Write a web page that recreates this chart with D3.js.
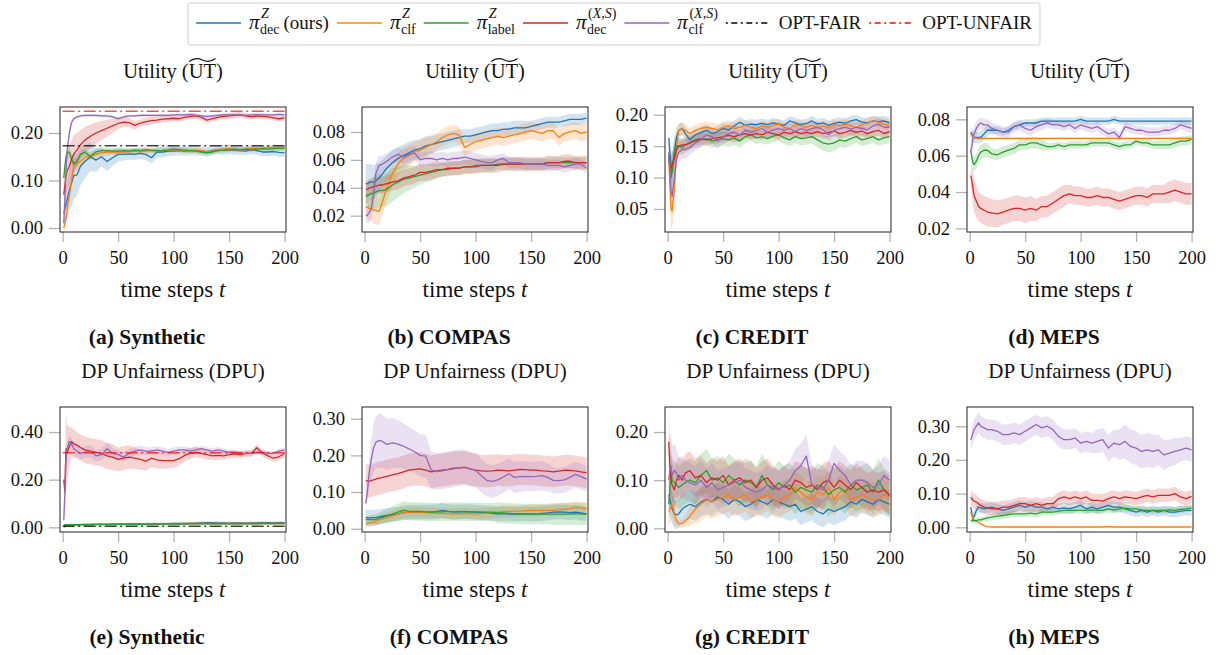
<!DOCTYPE html>
<html>
<head>
<meta charset="utf-8">
<script src="https://cdn.jsdelivr.net/npm/d3@7"></script>
<style>
  body { margin: 0; background: #fff; }
  svg text { font-family: "Liberation Serif", "DejaVu Serif", serif; fill: #111; }
</style>
</head>
<body>
<svg id="chart" width="1220" height="655"></svg>
<script>
/*################
Data: time grid shared by every series
################*/
const steps = [1, 2, 3, 4, 6, 8, 10, 13, 16,
  20, 25, 30, 35, 40, 45, 50, 55, 60, 65,
  70, 75, 80, 85, 90, 95, 100, 105, 110, 115,
  120, 125, 130, 135, 140, 145, 150, 155, 160, 165,
  170, 175, 180, 185, 190, 195, 200];

const xTicks = [0, 50, 100, 150, 200];
const synUtTicks = [0, 0.1, 0.2];
const compUtTicks = [0.02, 0.04, 0.06, 0.08];
const credUtTicks = [0.05, 0.1, 0.15, 0.2];
const mepsUtTicks = [0.02, 0.04, 0.06, 0.08];
const synDpTicks = [0, 0.2, 0.4];
const compDpTicks = [0, 0.1, 0.2, 0.3];
const credDpTicks = [0, 0.1, 0.2];
const mepsDpTicks = [0, 0.1, 0.2, 0.3];

// reference optima (synthetic only): [utility, DPU]
const optFair = [0.173, 0.005];
const optUnfair = [0.246, 0.313];

/*################
(a) Synthetic - utility
################*/
const synUtDecZ = [0.030, 0.040, 0.050, 0.060, 0.080, 0.095, 0.110, 0.112, 0.130,
  0.140, 0.150, 0.143, 0.150, 0.140, 0.148, 0.155, 0.155, 0.156, 0.155,
  0.157, 0.155, 0.148, 0.160, 0.160, 0.162, 0.162, 0.163, 0.162, 0.163,
  0.163, 0.162, 0.160, 0.163, 0.165, 0.164, 0.165, 0.164, 0.163, 0.162,
  0.165, 0.163, 0.160, 0.160, 0.161, 0.159, 0.158];
const synUtDecZSd = [0.020, 0.030, 0.035, 0.040, 0.045, 0.050, 0.050, 0.045, 0.040,
  0.035, 0.030, 0.025, 0.020, 0.020, 0.018, 0.015, 0.013, 0.012, 0.012,
  0.012, 0.012, 0.012, 0.012, 0.011, 0.011, 0.010, 0.010, 0.010, 0.010,
  0.010, 0.010, 0.010, 0.010, 0.010, 0.010, 0.010, 0.010, 0.009, 0.009,
  0.009, 0.009, 0.009, 0.009, 0.009, 0.009, 0.009];
const synUtClfZ = [0.000, 0.010, 0.020, 0.040, 0.070, 0.100, 0.130, 0.135, 0.140,
  0.148, 0.153, 0.155, 0.158, 0.160, 0.160, 0.160, 0.160, 0.161, 0.162,
  0.161, 0.162, 0.163, 0.162, 0.163, 0.164, 0.165, 0.164, 0.163, 0.163,
  0.164, 0.163, 0.161, 0.162, 0.165, 0.166, 0.167, 0.165, 0.164, 0.166,
  0.168, 0.167, 0.168, 0.170, 0.169, 0.168, 0.168];
const synUtClfZSd = [0.004, 0.008, 0.012, 0.018, 0.020, 0.020, 0.015, 0.012, 0.010,
  0.009, 0.008, 0.008, 0.007, 0.007, 0.006, 0.006, 0.006, 0.006, 0.006,
  0.006, 0.006, 0.005, 0.005, 0.005, 0.005, 0.005, 0.005, 0.005, 0.005,
  0.005, 0.005, 0.005, 0.005, 0.005, 0.005, 0.005, 0.005, 0.005, 0.005,
  0.005, 0.005, 0.005, 0.005, 0.005, 0.005, 0.005];
const synUtLabelZ = [0.105, 0.130, 0.150, 0.158, 0.160, 0.145, 0.135, 0.140, 0.155,
  0.160, 0.150, 0.160, 0.163, 0.163, 0.162, 0.162, 0.163, 0.162, 0.164,
  0.163, 0.165, 0.164, 0.163, 0.163, 0.164, 0.166, 0.165, 0.164, 0.163,
  0.162, 0.160, 0.158, 0.160, 0.163, 0.164, 0.165, 0.166, 0.165, 0.166,
  0.165, 0.166, 0.167, 0.166, 0.167, 0.168, 0.168];
const synUtLabelZSd = [0.010, 0.012, 0.012, 0.012, 0.012, 0.012, 0.010, 0.010, 0.008,
  0.008, 0.007, 0.007, 0.006, 0.006, 0.006, 0.006, 0.005, 0.005, 0.005,
  0.005, 0.005, 0.005, 0.005, 0.005, 0.005, 0.005, 0.005, 0.005, 0.005,
  0.005, 0.005, 0.005, 0.005, 0.005, 0.005, 0.005, 0.005, 0.005, 0.005,
  0.005, 0.005, 0.005, 0.005, 0.005, 0.005, 0.005];
const synUtDecXS = [0.070, 0.090, 0.110, 0.120, 0.130, 0.145, 0.155, 0.165, 0.175,
  0.185, 0.193, 0.200, 0.205, 0.210, 0.215, 0.220, 0.223, 0.222, 0.216,
  0.221, 0.224, 0.226, 0.227, 0.229, 0.230, 0.231, 0.230, 0.233, 0.235,
  0.236, 0.233, 0.227, 0.230, 0.233, 0.235, 0.236, 0.237, 0.238, 0.236,
  0.234, 0.236, 0.235, 0.234, 0.232, 0.230, 0.232];
const synUtDecXSSd = [0.030, 0.035, 0.040, 0.040, 0.040, 0.040, 0.040, 0.035, 0.030,
  0.028, 0.025, 0.022, 0.020, 0.018, 0.015, 0.012, 0.010, 0.010, 0.009,
  0.008, 0.008, 0.008, 0.007, 0.007, 0.007, 0.006, 0.006, 0.006, 0.006,
  0.006, 0.006, 0.006, 0.006, 0.006, 0.006, 0.006, 0.006, 0.006, 0.006,
  0.006, 0.006, 0.006, 0.006, 0.006, 0.006, 0.006];
const synUtClfXS = [0.010, 0.060, 0.120, 0.160, 0.200, 0.222, 0.230, 0.234, 0.236,
  0.237, 0.237, 0.237, 0.236, 0.236, 0.234, 0.230, 0.234, 0.236, 0.236,
  0.237, 0.237, 0.237, 0.237, 0.237, 0.237, 0.238, 0.238, 0.238, 0.239,
  0.237, 0.236, 0.235, 0.236, 0.237, 0.238, 0.238, 0.238, 0.238, 0.237,
  0.238, 0.238, 0.238, 0.238, 0.238, 0.239, 0.238];
const synUtClfXSSd = [0.005, 0.020, 0.020, 0.015, 0.010, 0.006, 0.004, 0.004, 0.003,
  0.003, 0.003, 0.003, 0.003, 0.003, 0.003, 0.003, 0.003, 0.003, 0.003,
  0.003, 0.003, 0.003, 0.003, 0.003, 0.003, 0.003, 0.003, 0.003, 0.003,
  0.003, 0.003, 0.003, 0.003, 0.003, 0.003, 0.003, 0.003, 0.003, 0.003,
  0.003, 0.003, 0.003, 0.003, 0.003, 0.003, 0.003];

/*################
(b) COMPAS - utility
################*/
const compUtDecZ = [0.043, 0.043, 0.043, 0.044, 0.044, 0.044, 0.045, 0.047, 0.050,
  0.054, 0.058, 0.061, 0.063, 0.065, 0.067, 0.068, 0.070, 0.071, 0.072,
  0.073, 0.074, 0.075, 0.076, 0.077, 0.077, 0.078, 0.079, 0.080, 0.081,
  0.081, 0.082, 0.082, 0.083, 0.083, 0.083, 0.084, 0.085, 0.086, 0.087,
  0.087, 0.087, 0.088, 0.089, 0.089, 0.089, 0.090];
const compUtDecZSd = [0.014, 0.014, 0.014, 0.013, 0.013, 0.012, 0.012, 0.011, 0.010,
  0.009, 0.009, 0.008, 0.008, 0.008, 0.007, 0.007, 0.007, 0.006, 0.006,
  0.006, 0.006, 0.006, 0.006, 0.005, 0.005, 0.005, 0.005, 0.005, 0.005,
  0.005, 0.005, 0.005, 0.005, 0.005, 0.005, 0.004, 0.004, 0.004, 0.004,
  0.004, 0.004, 0.004, 0.004, 0.004, 0.004, 0.004];
const compUtClfZ = [0.026, 0.026, 0.026, 0.025, 0.025, 0.024, 0.024, 0.023, 0.030,
  0.040, 0.050, 0.057, 0.061, 0.063, 0.066, 0.067, 0.069, 0.071, 0.073,
  0.076, 0.078, 0.079, 0.078, 0.069, 0.071, 0.073, 0.074, 0.075, 0.076,
  0.077, 0.076, 0.077, 0.078, 0.079, 0.080, 0.081, 0.080, 0.079, 0.081,
  0.081, 0.076, 0.079, 0.080, 0.081, 0.079, 0.080];
const compUtClfZSd = [0.006, 0.007, 0.008, 0.008, 0.009, 0.010, 0.010, 0.010, 0.009,
  0.009, 0.009, 0.008, 0.008, 0.008, 0.007, 0.007, 0.007, 0.007, 0.006,
  0.006, 0.006, 0.006, 0.006, 0.006, 0.006, 0.006, 0.006, 0.006, 0.006,
  0.006, 0.006, 0.006, 0.006, 0.006, 0.006, 0.006, 0.006, 0.006, 0.006,
  0.006, 0.006, 0.006, 0.006, 0.006, 0.006, 0.006];
const compUtLabelZ = [0.034, 0.034, 0.035, 0.035, 0.036, 0.036, 0.037, 0.038, 0.038,
  0.039, 0.042, 0.044, 0.046, 0.047, 0.048, 0.049, 0.050, 0.051, 0.052,
  0.053, 0.053, 0.054, 0.054, 0.055, 0.055, 0.056, 0.056, 0.056, 0.056,
  0.057, 0.057, 0.057, 0.057, 0.057, 0.057, 0.057, 0.057, 0.057, 0.058,
  0.058, 0.058, 0.058, 0.058, 0.058, 0.058, 0.058];
const compUtLabelZSd = [0.008, 0.009, 0.010, 0.010, 0.011, 0.012, 0.012, 0.012, 0.012,
  0.012, 0.012, 0.011, 0.010, 0.009, 0.008, 0.007, 0.006, 0.006, 0.005,
  0.005, 0.005, 0.005, 0.005, 0.005, 0.005, 0.005, 0.005, 0.005, 0.005,
  0.004, 0.004, 0.004, 0.004, 0.004, 0.004, 0.004, 0.004, 0.004, 0.004,
  0.004, 0.004, 0.004, 0.004, 0.004, 0.004, 0.004];
const compUtDecXS = [0.039, 0.039, 0.039, 0.040, 0.040, 0.041, 0.041, 0.042, 0.042,
  0.043, 0.044, 0.045, 0.047, 0.048, 0.049, 0.051, 0.051, 0.052, 0.053,
  0.053, 0.054, 0.054, 0.054, 0.055, 0.055, 0.055, 0.056, 0.056, 0.056,
  0.056, 0.057, 0.057, 0.057, 0.057, 0.057, 0.057, 0.057, 0.057, 0.058,
  0.058, 0.058, 0.059, 0.059, 0.058, 0.058, 0.058];
const compUtDecXSSd = [0.006, 0.006, 0.006, 0.006, 0.006, 0.006, 0.006, 0.006, 0.006,
  0.006, 0.006, 0.006, 0.006, 0.006, 0.006, 0.006, 0.006, 0.006, 0.006,
  0.005, 0.005, 0.005, 0.005, 0.005, 0.005, 0.005, 0.005, 0.005, 0.005,
  0.005, 0.005, 0.005, 0.005, 0.005, 0.005, 0.005, 0.005, 0.005, 0.005,
  0.005, 0.005, 0.005, 0.005, 0.005, 0.005, 0.005];
const compUtClfXS = [0.020, 0.020, 0.021, 0.022, 0.025, 0.035, 0.050, 0.056, 0.057,
  0.059, 0.062, 0.064, 0.062, 0.064, 0.065, 0.060, 0.061, 0.061, 0.060,
  0.061, 0.060, 0.061, 0.061, 0.062, 0.061, 0.060, 0.059, 0.058, 0.058,
  0.060, 0.061, 0.058, 0.058, 0.058, 0.057, 0.057, 0.057, 0.057, 0.056,
  0.056, 0.056, 0.055, 0.056, 0.057, 0.057, 0.054];
const compUtClfXSSd = [0.004, 0.005, 0.006, 0.007, 0.008, 0.010, 0.008, 0.007, 0.006,
  0.006, 0.005, 0.005, 0.005, 0.005, 0.005, 0.005, 0.005, 0.005, 0.005,
  0.005, 0.005, 0.005, 0.005, 0.005, 0.005, 0.005, 0.005, 0.005, 0.005,
  0.004, 0.004, 0.004, 0.004, 0.004, 0.004, 0.004, 0.004, 0.004, 0.004,
  0.004, 0.004, 0.004, 0.004, 0.004, 0.004, 0.004];

/*################
(c) CREDIT - utility
################*/
const credUtDecZ = [0.163, 0.140, 0.120, 0.110, 0.140, 0.165, 0.175, 0.178, 0.170,
  0.160, 0.168, 0.172, 0.175, 0.170, 0.173, 0.178, 0.176, 0.182, 0.188,
  0.183, 0.185, 0.184, 0.186, 0.184, 0.187, 0.185, 0.183, 0.190, 0.187,
  0.184, 0.186, 0.190, 0.185, 0.187, 0.183, 0.186, 0.188, 0.186, 0.190,
  0.192, 0.188, 0.187, 0.190, 0.189, 0.190, 0.187];
const credUtDecZSd = [0.010, 0.020, 0.025, 0.030, 0.025, 0.015, 0.010, 0.010, 0.010,
  0.009, 0.009, 0.009, 0.009, 0.009, 0.009, 0.009, 0.009, 0.009, 0.009,
  0.008, 0.008, 0.008, 0.008, 0.008, 0.008, 0.008, 0.008, 0.008, 0.008,
  0.008, 0.008, 0.008, 0.008, 0.008, 0.008, 0.008, 0.008, 0.008, 0.008,
  0.008, 0.008, 0.008, 0.008, 0.008, 0.008, 0.008];
const credUtClfZ = [0.130, 0.090, 0.050, 0.047, 0.080, 0.150, 0.175, 0.178, 0.175,
  0.170, 0.175, 0.178, 0.180, 0.178, 0.176, 0.180, 0.182, 0.178, 0.180,
  0.183, 0.180, 0.178, 0.182, 0.180, 0.183, 0.185, 0.180, 0.178, 0.184,
  0.182, 0.180, 0.183, 0.179, 0.182, 0.180, 0.184, 0.182, 0.185, 0.183,
  0.180, 0.184, 0.186, 0.190, 0.188, 0.185, 0.183];
const credUtClfZSd = [0.020, 0.030, 0.030, 0.030, 0.030, 0.020, 0.010, 0.010, 0.010,
  0.009, 0.009, 0.009, 0.009, 0.009, 0.009, 0.009, 0.009, 0.009, 0.009,
  0.008, 0.008, 0.008, 0.008, 0.008, 0.008, 0.008, 0.008, 0.008, 0.008,
  0.008, 0.008, 0.008, 0.008, 0.008, 0.008, 0.008, 0.008, 0.008, 0.008,
  0.008, 0.008, 0.008, 0.008, 0.008, 0.008, 0.008];
const credUtLabelZ = [0.130, 0.120, 0.100, 0.110, 0.140, 0.150, 0.150, 0.148, 0.152,
  0.155, 0.158, 0.160, 0.162, 0.158, 0.160, 0.162, 0.160, 0.163, 0.158,
  0.165, 0.168, 0.163, 0.165, 0.162, 0.166, 0.168, 0.163, 0.160, 0.165,
  0.162, 0.163, 0.165, 0.160, 0.155, 0.153, 0.155, 0.160, 0.158, 0.162,
  0.165, 0.160, 0.162, 0.165, 0.160, 0.163, 0.165];
const credUtLabelZSd = [0.015, 0.020, 0.025, 0.025, 0.020, 0.015, 0.012, 0.012, 0.012,
  0.011, 0.011, 0.011, 0.011, 0.011, 0.011, 0.011, 0.011, 0.011, 0.011,
  0.010, 0.010, 0.010, 0.010, 0.010, 0.010, 0.010, 0.010, 0.010, 0.010,
  0.011, 0.011, 0.011, 0.012, 0.012, 0.013, 0.013, 0.012, 0.011, 0.011,
  0.010, 0.010, 0.010, 0.010, 0.010, 0.010, 0.010];
const credUtDecXS = [0.135, 0.120, 0.115, 0.120, 0.130, 0.145, 0.150, 0.152, 0.152,
  0.155, 0.160, 0.162, 0.160, 0.162, 0.163, 0.165, 0.167, 0.165, 0.168,
  0.170, 0.168, 0.170, 0.168, 0.172, 0.170, 0.168, 0.172, 0.170, 0.173,
  0.170, 0.172, 0.170, 0.173, 0.170, 0.172, 0.174, 0.170, 0.172, 0.175,
  0.172, 0.174, 0.170, 0.173, 0.175, 0.170, 0.173];
const credUtDecXSSd = [0.015, 0.020, 0.020, 0.020, 0.020, 0.015, 0.012, 0.010, 0.010,
  0.009, 0.009, 0.009, 0.009, 0.009, 0.009, 0.009, 0.009, 0.009, 0.009,
  0.008, 0.008, 0.008, 0.008, 0.008, 0.008, 0.008, 0.008, 0.008, 0.008,
  0.008, 0.008, 0.008, 0.008, 0.008, 0.008, 0.008, 0.008, 0.008, 0.008,
  0.008, 0.008, 0.008, 0.008, 0.008, 0.008, 0.008];
const credUtClfXS = [0.140, 0.110, 0.080, 0.070, 0.100, 0.130, 0.140, 0.145, 0.145,
  0.148, 0.155, 0.160, 0.168, 0.165, 0.158, 0.165, 0.170, 0.172, 0.168,
  0.175, 0.172, 0.175, 0.178, 0.172, 0.176, 0.178, 0.175, 0.178, 0.173,
  0.178, 0.175, 0.178, 0.180, 0.176, 0.168, 0.175, 0.178, 0.180, 0.177,
  0.180, 0.178, 0.176, 0.182, 0.185, 0.180, 0.180];
const credUtClfXSSd = [0.020, 0.025, 0.030, 0.030, 0.030, 0.020, 0.015, 0.015, 0.015,
  0.012, 0.012, 0.012, 0.012, 0.012, 0.012, 0.012, 0.012, 0.012, 0.012,
  0.010, 0.010, 0.010, 0.010, 0.010, 0.010, 0.010, 0.010, 0.010, 0.010,
  0.010, 0.010, 0.010, 0.010, 0.010, 0.010, 0.010, 0.010, 0.010, 0.010,
  0.010, 0.010, 0.010, 0.010, 0.010, 0.010, 0.010];

/*################
(d) MEPS - utility
################*/
const mepsUtDecZ = [0.073, 0.072, 0.071, 0.070, 0.070, 0.070, 0.070, 0.072, 0.074,
  0.074, 0.074, 0.073, 0.074, 0.076, 0.077, 0.078, 0.078, 0.078, 0.079,
  0.079, 0.079, 0.079, 0.079, 0.079, 0.079, 0.080, 0.079, 0.079, 0.079,
  0.079, 0.079, 0.080, 0.079, 0.079, 0.079, 0.079, 0.079, 0.079, 0.079,
  0.079, 0.079, 0.079, 0.079, 0.079, 0.079, 0.079];
const mepsUtDecZSd = [0.003, 0.003, 0.003, 0.003, 0.003, 0.003, 0.003, 0.003, 0.003,
  0.002, 0.002, 0.002, 0.002, 0.002, 0.002, 0.002, 0.002, 0.002, 0.002,
  0.002, 0.002, 0.002, 0.002, 0.002, 0.002, 0.002, 0.002, 0.002, 0.002,
  0.002, 0.002, 0.002, 0.002, 0.002, 0.002, 0.002, 0.002, 0.002, 0.002,
  0.002, 0.002, 0.002, 0.002, 0.002, 0.002, 0.002];
const mepsUtClfZ = [0.0720, 0.0710, 0.0705, 0.0700, 0.0697, 0.0695, 0.0695, 0.0695, 0.0695,
  0.0695, 0.0695, 0.0695, 0.0695, 0.0695, 0.0695, 0.0695, 0.0695, 0.0695, 0.0695,
  0.0695, 0.0695, 0.0695, 0.0695, 0.0695, 0.0695, 0.0695, 0.0695, 0.0695, 0.0695,
  0.0695, 0.0695, 0.0695, 0.0695, 0.0695, 0.0695, 0.0695, 0.0695, 0.0695, 0.0695,
  0.0695, 0.0695, 0.0695, 0.0695, 0.0695, 0.0695, 0.0695];
const mepsUtClfZSd = [0.0008, 0.0006, 0.0005, 0.0005, 0.0005, 0.0005, 0.0005, 0.0005, 0.0005,
  0.0005, 0.0005, 0.0005, 0.0005, 0.0005, 0.0005, 0.0005, 0.0005, 0.0005, 0.0005,
  0.0005, 0.0005, 0.0005, 0.0005, 0.0005, 0.0005, 0.0005, 0.0005, 0.0005, 0.0005,
  0.0005, 0.0005, 0.0005, 0.0005, 0.0005, 0.0005, 0.0005, 0.0005, 0.0005, 0.0005,
  0.0005, 0.0005, 0.0005, 0.0005, 0.0005, 0.0005, 0.0005];
const mepsUtLabelZ = [0.063, 0.059, 0.056, 0.055, 0.057, 0.060, 0.062, 0.063, 0.063,
  0.061, 0.0605, 0.062, 0.063, 0.064, 0.066, 0.066, 0.067, 0.067, 0.066,
  0.065, 0.065, 0.066, 0.065, 0.066, 0.066, 0.066, 0.066, 0.067, 0.067,
  0.067, 0.067, 0.066, 0.065, 0.066, 0.066, 0.068, 0.067, 0.067, 0.066,
  0.066, 0.066, 0.066, 0.067, 0.068, 0.068, 0.069];
const mepsUtLabelZSd = [0.004, 0.004, 0.004, 0.004, 0.004, 0.004, 0.004, 0.004, 0.004,
  0.003, 0.003, 0.003, 0.003, 0.003, 0.003, 0.003, 0.003, 0.003, 0.003,
  0.002, 0.002, 0.002, 0.002, 0.002, 0.002, 0.002, 0.002, 0.002, 0.002,
  0.002, 0.002, 0.002, 0.002, 0.002, 0.002, 0.002, 0.002, 0.002, 0.002,
  0.0025, 0.0025, 0.0025, 0.0025, 0.0025, 0.0025, 0.0025];
const mepsUtDecXS = [0.049, 0.046, 0.042, 0.038, 0.035, 0.032, 0.031, 0.030, 0.029,
  0.0285, 0.028, 0.029, 0.030, 0.031, 0.031, 0.030, 0.031, 0.030, 0.032,
  0.032, 0.034, 0.036, 0.038, 0.039, 0.038, 0.038, 0.037, 0.037, 0.038,
  0.037, 0.037, 0.036, 0.035, 0.036, 0.037, 0.038, 0.038, 0.037, 0.039,
  0.039, 0.039, 0.040, 0.041, 0.040, 0.039, 0.039];
const mepsUtDecXSSd = [0.006, 0.008, 0.009, 0.009, 0.009, 0.008, 0.008, 0.008, 0.008,
  0.0075, 0.0075, 0.007, 0.007, 0.007, 0.007, 0.007, 0.007, 0.006, 0.006,
  0.006, 0.006, 0.006, 0.006, 0.005, 0.005, 0.005, 0.005, 0.005, 0.005,
  0.005, 0.005, 0.005, 0.005, 0.005, 0.005, 0.005, 0.005, 0.005, 0.005,
  0.005, 0.005, 0.006, 0.006, 0.006, 0.006, 0.006];
const mepsUtClfXS = [0.063, 0.065, 0.070, 0.072, 0.075, 0.077, 0.078, 0.077, 0.077,
  0.075, 0.074, 0.073, 0.073, 0.076, 0.077, 0.075, 0.074, 0.076, 0.077,
  0.078, 0.077, 0.077, 0.076, 0.077, 0.075, 0.077, 0.076, 0.075, 0.076,
  0.074, 0.072, 0.073, 0.070, 0.076, 0.075, 0.074, 0.074, 0.073, 0.073,
  0.073, 0.074, 0.074, 0.075, 0.077, 0.076, 0.075];
const mepsUtClfXSSd = [0.005, 0.005, 0.004, 0.004, 0.004, 0.003, 0.003, 0.003, 0.003,
  0.003, 0.003, 0.003, 0.003, 0.003, 0.003, 0.003, 0.003, 0.003, 0.003,
  0.0025, 0.0025, 0.0025, 0.0025, 0.0025, 0.0025, 0.0025, 0.0025, 0.0025, 0.0025,
  0.0025, 0.0025, 0.0025, 0.0025, 0.0025, 0.0025, 0.0025, 0.0025, 0.0025, 0.0025,
  0.0025, 0.0025, 0.0025, 0.0025, 0.0025, 0.0025, 0.0025];

/*################
(e) Synthetic - DP unfairness
################*/
const synDpDecZ = [0.008, 0.008, 0.009, 0.009, 0.010, 0.010, 0.010, 0.010, 0.011,
  0.011, 0.011, 0.012, 0.012, 0.012, 0.013, 0.013, 0.013, 0.014, 0.014,
  0.014, 0.014, 0.015, 0.015, 0.015, 0.015, 0.016, 0.016, 0.016, 0.017,
  0.018, 0.019, 0.020, 0.020, 0.019, 0.019, 0.018, 0.019, 0.019, 0.018,
  0.019, 0.019, 0.020, 0.020, 0.019, 0.020, 0.020];
const synDpDecZSd = [0.005, 0.005, 0.005, 0.005, 0.005, 0.005, 0.005, 0.005, 0.005,
  0.005, 0.005, 0.005, 0.005, 0.005, 0.005, 0.005, 0.005, 0.005, 0.005,
  0.005, 0.005, 0.005, 0.005, 0.005, 0.005, 0.005, 0.005, 0.005, 0.005,
  0.005, 0.005, 0.006, 0.006, 0.006, 0.005, 0.005, 0.005, 0.005, 0.005,
  0.005, 0.005, 0.005, 0.005, 0.005, 0.005, 0.005];
const synDpClfZ = [0.000, 0.003, 0.005, 0.006, 0.007, 0.008, 0.009, 0.010, 0.010,
  0.011, 0.011, 0.012, 0.012, 0.012, 0.013, 0.013, 0.013, 0.013, 0.014,
  0.014, 0.014, 0.014, 0.015, 0.015, 0.015, 0.015, 0.015, 0.016, 0.016,
  0.016, 0.016, 0.016, 0.016, 0.016, 0.016, 0.016, 0.016, 0.016, 0.016,
  0.016, 0.016, 0.016, 0.016, 0.016, 0.016, 0.016];
const synDpClfZSd = [0.004, 0.004, 0.004, 0.004, 0.004, 0.004, 0.004, 0.004, 0.004,
  0.004, 0.004, 0.004, 0.004, 0.004, 0.004, 0.004, 0.004, 0.004, 0.004,
  0.004, 0.004, 0.004, 0.004, 0.004, 0.004, 0.004, 0.004, 0.004, 0.004,
  0.004, 0.004, 0.004, 0.004, 0.004, 0.004, 0.004, 0.004, 0.004, 0.004,
  0.004, 0.004, 0.004, 0.004, 0.004, 0.004, 0.004];
const synDpLabelZ = [0.010, 0.010, 0.010, 0.010, 0.010, 0.011, 0.011, 0.011, 0.011,
  0.012, 0.012, 0.012, 0.012, 0.012, 0.012, 0.013, 0.013, 0.013, 0.013,
  0.013, 0.013, 0.014, 0.014, 0.014, 0.014, 0.014, 0.014, 0.014, 0.015,
  0.015, 0.015, 0.015, 0.015, 0.015, 0.015, 0.015, 0.015, 0.015, 0.015,
  0.015, 0.015, 0.016, 0.016, 0.016, 0.016, 0.016];
const synDpLabelZSd = [0.004, 0.004, 0.004, 0.004, 0.004, 0.004, 0.004, 0.004, 0.004,
  0.004, 0.004, 0.004, 0.004, 0.004, 0.004, 0.004, 0.004, 0.004, 0.004,
  0.004, 0.004, 0.004, 0.004, 0.004, 0.004, 0.004, 0.004, 0.004, 0.004,
  0.004, 0.004, 0.004, 0.004, 0.004, 0.004, 0.004, 0.004, 0.004, 0.004,
  0.004, 0.004, 0.004, 0.004, 0.004, 0.004, 0.004];
const synDpDecXS = [0.200, 0.150, 0.330, 0.310, 0.340, 0.360, 0.350, 0.345, 0.335,
  0.325, 0.320, 0.315, 0.310, 0.300, 0.295, 0.285, 0.290, 0.295, 0.290,
  0.285, 0.278, 0.290, 0.283, 0.280, 0.280, 0.280, 0.288, 0.302, 0.310,
  0.315, 0.310, 0.305, 0.300, 0.302, 0.300, 0.305, 0.308, 0.305, 0.310,
  0.310, 0.334, 0.312, 0.300, 0.290, 0.296, 0.310];
const synDpDecXSSd = [0.050, 0.120, 0.150, 0.120, 0.080, 0.060, 0.060, 0.055, 0.055,
  0.055, 0.055, 0.055, 0.055, 0.055, 0.055, 0.050, 0.050, 0.048, 0.045,
  0.042, 0.040, 0.038, 0.036, 0.034, 0.032, 0.030, 0.028, 0.026, 0.024,
  0.022, 0.020, 0.020, 0.018, 0.018, 0.017, 0.016, 0.016, 0.015, 0.015,
  0.015, 0.015, 0.015, 0.015, 0.015, 0.015, 0.015];
const synDpClfXS = [0.030, 0.150, 0.280, 0.330, 0.360, 0.350, 0.330, 0.320, 0.310,
  0.315, 0.320, 0.300, 0.305, 0.330, 0.310, 0.305, 0.295, 0.310, 0.320,
  0.325, 0.320, 0.320, 0.325, 0.320, 0.315, 0.320, 0.325, 0.325, 0.320,
  0.325, 0.330, 0.325, 0.320, 0.325, 0.320, 0.315, 0.315, 0.310, 0.310,
  0.310, 0.315, 0.315, 0.310, 0.310, 0.320, 0.325];
const synDpClfXSSd = [0.010, 0.030, 0.030, 0.025, 0.025, 0.025, 0.025, 0.025, 0.025,
  0.025, 0.025, 0.025, 0.025, 0.025, 0.022, 0.020, 0.020, 0.020, 0.018,
  0.018, 0.016, 0.015, 0.015, 0.015, 0.015, 0.015, 0.014, 0.014, 0.013,
  0.013, 0.012, 0.012, 0.012, 0.012, 0.011, 0.011, 0.010, 0.010, 0.010,
  0.010, 0.010, 0.010, 0.010, 0.010, 0.010, 0.010];

/*################
(f) COMPAS - DP unfairness
################*/
const compDpDecZ = [0.030, 0.030, 0.029, 0.029, 0.030, 0.030, 0.030, 0.032, 0.034,
  0.036, 0.038, 0.040, 0.044, 0.045, 0.045, 0.045, 0.045, 0.045, 0.047,
  0.050, 0.047, 0.045, 0.046, 0.047, 0.046, 0.045, 0.044, 0.043, 0.042,
  0.040, 0.041, 0.040, 0.040, 0.040, 0.041, 0.040, 0.040, 0.042, 0.043,
  0.045, 0.046, 0.045, 0.044, 0.045, 0.043, 0.040];
const compDpDecZSd = [0.022, 0.022, 0.022, 0.022, 0.022, 0.022, 0.022, 0.021, 0.021,
  0.020, 0.020, 0.020, 0.020, 0.020, 0.020, 0.020, 0.020, 0.020, 0.020,
  0.020, 0.020, 0.020, 0.020, 0.020, 0.020, 0.020, 0.020, 0.020, 0.020,
  0.020, 0.020, 0.020, 0.020, 0.020, 0.020, 0.020, 0.020, 0.020, 0.020,
  0.020, 0.020, 0.020, 0.020, 0.020, 0.020, 0.020];
const compDpClfZ = [0.013, 0.013, 0.014, 0.015, 0.016, 0.018, 0.020, 0.024, 0.027,
  0.030, 0.035, 0.040, 0.043, 0.045, 0.045, 0.045, 0.044, 0.043, 0.042,
  0.042, 0.041, 0.040, 0.041, 0.042, 0.041, 0.040, 0.041, 0.043, 0.044,
  0.045, 0.047, 0.047, 0.048, 0.048, 0.049, 0.050, 0.050, 0.050, 0.050,
  0.050, 0.052, 0.053, 0.055, 0.058, 0.057, 0.055];
const compDpClfZSd = [0.008, 0.008, 0.008, 0.009, 0.009, 0.010, 0.010, 0.011, 0.012,
  0.013, 0.014, 0.015, 0.015, 0.015, 0.015, 0.015, 0.015, 0.015, 0.015,
  0.015, 0.015, 0.015, 0.015, 0.015, 0.015, 0.015, 0.015, 0.015, 0.015,
  0.016, 0.016, 0.016, 0.016, 0.016, 0.016, 0.016, 0.016, 0.016, 0.016,
  0.017, 0.017, 0.017, 0.017, 0.017, 0.017, 0.017];
const compDpLabelZ = [0.025, 0.025, 0.025, 0.025, 0.025, 0.025, 0.025, 0.028, 0.031,
  0.035, 0.040, 0.045, 0.050, 0.048, 0.047, 0.047, 0.046, 0.045, 0.046,
  0.046, 0.047, 0.046, 0.047, 0.046, 0.046, 0.046, 0.046, 0.045, 0.045,
  0.044, 0.043, 0.042, 0.041, 0.040, 0.040, 0.040, 0.040, 0.040, 0.040,
  0.040, 0.040, 0.040, 0.040, 0.041, 0.040, 0.040];
const compDpLabelZSd = [0.010, 0.010, 0.010, 0.011, 0.012, 0.013, 0.014, 0.015, 0.017,
  0.019, 0.021, 0.023, 0.025, 0.025, 0.025, 0.025, 0.025, 0.025, 0.025,
  0.025, 0.025, 0.025, 0.025, 0.025, 0.025, 0.025, 0.025, 0.025, 0.025,
  0.028, 0.028, 0.028, 0.028, 0.028, 0.028, 0.028, 0.028, 0.028, 0.028,
  0.030, 0.030, 0.030, 0.030, 0.030, 0.030, 0.030];
const compDpDecXS = [0.132, 0.131, 0.130, 0.130, 0.131, 0.133, 0.135, 0.138, 0.140,
  0.143, 0.147, 0.150, 0.155, 0.160, 0.162, 0.163, 0.160, 0.155, 0.158,
  0.160, 0.162, 0.165, 0.166, 0.167, 0.163, 0.160, 0.158, 0.157, 0.158,
  0.160, 0.159, 0.158, 0.160, 0.162, 0.161, 0.160, 0.160, 0.158, 0.157,
  0.155, 0.157, 0.160, 0.159, 0.158, 0.155, 0.153];
const compDpDecXSSd = [0.045, 0.045, 0.045, 0.045, 0.045, 0.045, 0.045, 0.045, 0.045,
  0.045, 0.045, 0.045, 0.045, 0.045, 0.045, 0.045, 0.045, 0.045, 0.045,
  0.045, 0.045, 0.045, 0.045, 0.045, 0.045, 0.045, 0.044, 0.044, 0.044,
  0.043, 0.043, 0.043, 0.043, 0.042, 0.042, 0.042, 0.042, 0.042, 0.042,
  0.042, 0.042, 0.042, 0.042, 0.042, 0.042, 0.042];
const compDpClfXS = [0.070, 0.090, 0.120, 0.150, 0.190, 0.220, 0.235, 0.241, 0.238,
  0.230, 0.234, 0.231, 0.225, 0.218, 0.210, 0.200, 0.198, 0.160, 0.156,
  0.158, 0.161, 0.163, 0.166, 0.168, 0.163, 0.159, 0.145, 0.132, 0.129,
  0.133, 0.141, 0.150, 0.140, 0.142, 0.143, 0.142, 0.143, 0.145, 0.140,
  0.132, 0.131, 0.133, 0.140, 0.148, 0.142, 0.135];
const compDpClfXSSd = [0.010, 0.020, 0.030, 0.040, 0.055, 0.065, 0.070, 0.075, 0.072,
  0.070, 0.068, 0.065, 0.062, 0.060, 0.058, 0.058, 0.058, 0.050, 0.050,
  0.050, 0.050, 0.050, 0.050, 0.048, 0.047, 0.046, 0.045, 0.045, 0.045,
  0.044, 0.043, 0.042, 0.042, 0.042, 0.041, 0.040, 0.040, 0.040, 0.038,
  0.036, 0.035, 0.035, 0.035, 0.035, 0.035, 0.035];

/*################
(g) CREDIT - DP unfairness
################*/
const credDpDecZ = [0.070, 0.060, 0.050, 0.040, 0.030, 0.028, 0.030, 0.040, 0.045,
  0.050, 0.045, 0.055, 0.060, 0.055, 0.065, 0.060, 0.050, 0.060, 0.055,
  0.045, 0.050, 0.060, 0.055, 0.050, 0.060, 0.055, 0.050, 0.045, 0.050,
  0.035, 0.040, 0.045, 0.035, 0.030, 0.040, 0.035, 0.040, 0.045, 0.055,
  0.050, 0.060, 0.055, 0.050, 0.060, 0.055, 0.050];
const credDpDecZSd = [0.030, 0.030, 0.030, 0.030, 0.030, 0.030, 0.030, 0.030, 0.030,
  0.030, 0.030, 0.030, 0.030, 0.030, 0.030, 0.030, 0.030, 0.030, 0.030,
  0.030, 0.030, 0.030, 0.030, 0.030, 0.030, 0.030, 0.030, 0.030, 0.030,
  0.028, 0.028, 0.028, 0.028, 0.028, 0.028, 0.028, 0.028, 0.028, 0.028,
  0.028, 0.028, 0.028, 0.028, 0.028, 0.028, 0.028];
const credDpClfZ = [0.035, 0.040, 0.045, 0.050, 0.030, 0.015, 0.010, 0.010, 0.015,
  0.025, 0.040, 0.050, 0.060, 0.055, 0.060, 0.065, 0.070, 0.060, 0.065,
  0.070, 0.055, 0.060, 0.065, 0.070, 0.060, 0.055, 0.065, 0.070, 0.085,
  0.075, 0.065, 0.060, 0.075, 0.070, 0.085, 0.060, 0.075, 0.080, 0.060,
  0.065, 0.070, 0.065, 0.060, 0.060, 0.070, 0.065];
const credDpClfZSd = [0.030, 0.030, 0.030, 0.030, 0.025, 0.010, 0.008, 0.008, 0.012,
  0.020, 0.030, 0.035, 0.035, 0.035, 0.035, 0.035, 0.035, 0.035, 0.035,
  0.035, 0.035, 0.035, 0.035, 0.035, 0.035, 0.035, 0.035, 0.035, 0.035,
  0.035, 0.035, 0.035, 0.035, 0.035, 0.035, 0.035, 0.035, 0.035, 0.035,
  0.035, 0.035, 0.035, 0.035, 0.035, 0.035, 0.035];
const credDpLabelZ = [0.050, 0.080, 0.120, 0.100, 0.095, 0.090, 0.085, 0.090, 0.095,
  0.100, 0.095, 0.110, 0.120, 0.100, 0.105, 0.095, 0.110, 0.100, 0.090,
  0.100, 0.095, 0.085, 0.110, 0.090, 0.080, 0.095, 0.085, 0.090, 0.075,
  0.085, 0.080, 0.075, 0.090, 0.085, 0.070, 0.080, 0.085, 0.075, 0.090,
  0.080, 0.085, 0.090, 0.075, 0.100, 0.080, 0.070];
const credDpLabelZSd = [0.045, 0.045, 0.045, 0.045, 0.045, 0.045, 0.045, 0.045, 0.045,
  0.045, 0.045, 0.045, 0.045, 0.045, 0.045, 0.045, 0.045, 0.045, 0.045,
  0.045, 0.045, 0.045, 0.045, 0.045, 0.045, 0.045, 0.045, 0.045, 0.045,
  0.045, 0.045, 0.045, 0.045, 0.045, 0.045, 0.045, 0.045, 0.045, 0.045,
  0.045, 0.045, 0.045, 0.045, 0.045, 0.045, 0.045];
const credDpDecXS = [0.180, 0.130, 0.100, 0.090, 0.080, 0.100, 0.110, 0.100, 0.115,
  0.120, 0.105, 0.110, 0.095, 0.105, 0.100, 0.110, 0.090, 0.100, 0.105,
  0.095, 0.100, 0.085, 0.100, 0.105, 0.090, 0.080, 0.090, 0.080, 0.100,
  0.095, 0.085, 0.090, 0.080, 0.095, 0.100, 0.085, 0.100, 0.090, 0.080,
  0.095, 0.085, 0.075, 0.080, 0.075, 0.080, 0.068];
const credDpDecXSSd = [0.060, 0.060, 0.055, 0.050, 0.045, 0.040, 0.040, 0.040, 0.040,
  0.040, 0.040, 0.040, 0.040, 0.040, 0.040, 0.040, 0.040, 0.040, 0.040,
  0.040, 0.040, 0.040, 0.040, 0.040, 0.040, 0.040, 0.040, 0.040, 0.040,
  0.040, 0.040, 0.040, 0.040, 0.040, 0.040, 0.040, 0.040, 0.040, 0.040,
  0.040, 0.040, 0.040, 0.040, 0.040, 0.040, 0.040];
const credDpClfXS = [0.100, 0.120, 0.130, 0.110, 0.120, 0.115, 0.100, 0.110, 0.100,
  0.095, 0.090, 0.100, 0.085, 0.095, 0.080, 0.085, 0.090, 0.095, 0.100,
  0.085, 0.080, 0.075, 0.080, 0.090, 0.085, 0.080, 0.090, 0.100, 0.120,
  0.130, 0.150, 0.090, 0.085, 0.080, 0.100, 0.135, 0.120, 0.110, 0.090,
  0.100, 0.100, 0.095, 0.085, 0.090, 0.110, 0.100];
const credDpClfXSSd = [0.060, 0.070, 0.070, 0.060, 0.055, 0.050, 0.045, 0.040, 0.040,
  0.040, 0.040, 0.040, 0.040, 0.040, 0.040, 0.040, 0.040, 0.040, 0.040,
  0.040, 0.040, 0.040, 0.040, 0.040, 0.040, 0.040, 0.040, 0.040, 0.045,
  0.045, 0.045, 0.040, 0.040, 0.040, 0.040, 0.040, 0.040, 0.040, 0.040,
  0.040, 0.040, 0.040, 0.040, 0.040, 0.040, 0.040];

/*################
(h) MEPS - DP unfairness
################*/
const mepsDpDecZ = [0.060, 0.040, 0.030, 0.032, 0.050, 0.060, 0.058, 0.055, 0.057,
  0.060, 0.055, 0.050, 0.055, 0.060, 0.065, 0.060, 0.065, 0.060, 0.060,
  0.055, 0.060, 0.055, 0.058, 0.055, 0.060, 0.065, 0.055, 0.060, 0.055,
  0.060, 0.065, 0.060, 0.060, 0.055, 0.050, 0.045, 0.050, 0.045, 0.050,
  0.045, 0.050, 0.045, 0.045, 0.048, 0.050, 0.050];
const mepsDpDecZSd = [0.015, 0.015, 0.015, 0.015, 0.015, 0.015, 0.015, 0.015, 0.015,
  0.015, 0.015, 0.015, 0.015, 0.015, 0.015, 0.015, 0.015, 0.015, 0.015,
  0.015, 0.015, 0.015, 0.015, 0.015, 0.015, 0.015, 0.015, 0.015, 0.015,
  0.015, 0.015, 0.015, 0.015, 0.015, 0.015, 0.015, 0.015, 0.015, 0.015,
  0.015, 0.015, 0.015, 0.015, 0.015, 0.015, 0.015];
const mepsDpClfZ = [0.045, 0.035, 0.025, 0.020, 0.018, 0.015, 0.010, 0.005, 0.002,
  0.001, 0.001, 0.001, 0.001, 0.001, 0.001, 0.001, 0.001, 0.001, 0.001,
  0.001, 0.001, 0.001, 0.001, 0.001, 0.001, 0.001, 0.001, 0.001, 0.001,
  0.001, 0.002, 0.001, 0.001, 0.001, 0.001, 0.001, 0.001, 0.001, 0.001,
  0.001, 0.001, 0.001, 0.001, 0.001, 0.001, 0.001];
const mepsDpClfZSd = [0.004, 0.004, 0.004, 0.003, 0.003, 0.003, 0.002, 0.002, 0.001,
  0.0005, 0.0005, 0.0005, 0.0005, 0.0005, 0.0005, 0.0005, 0.0005, 0.0005, 0.0005,
  0.0005, 0.0005, 0.0005, 0.0005, 0.0005, 0.0005, 0.0005, 0.0005, 0.0005, 0.0005,
  0.0005, 0.0005, 0.0005, 0.0005, 0.0005, 0.0005, 0.0005, 0.0005, 0.0005, 0.0005,
  0.0005, 0.0005, 0.0005, 0.0005, 0.0005, 0.0005, 0.0005];
const mepsDpLabelZ = [0.020, 0.020, 0.022, 0.020, 0.020, 0.022, 0.022, 0.025, 0.028,
  0.030, 0.033, 0.035, 0.038, 0.040, 0.040, 0.040, 0.042, 0.040, 0.045,
  0.045, 0.045, 0.048, 0.050, 0.050, 0.050, 0.050, 0.050, 0.052, 0.050,
  0.050, 0.055, 0.052, 0.055, 0.057, 0.055, 0.055, 0.052, 0.050, 0.050,
  0.050, 0.050, 0.052, 0.050, 0.053, 0.055, 0.058];
const mepsDpLabelZSd = [0.008, 0.008, 0.008, 0.008, 0.008, 0.008, 0.008, 0.008, 0.009,
  0.010, 0.010, 0.010, 0.010, 0.010, 0.010, 0.010, 0.010, 0.010, 0.010,
  0.010, 0.010, 0.010, 0.010, 0.010, 0.010, 0.010, 0.010, 0.010, 0.010,
  0.010, 0.010, 0.010, 0.010, 0.010, 0.010, 0.010, 0.010, 0.010, 0.010,
  0.010, 0.010, 0.010, 0.010, 0.010, 0.010, 0.010];
const mepsDpDecXS = [0.090, 0.085, 0.080, 0.078, 0.075, 0.070, 0.065, 0.060, 0.058,
  0.055, 0.055, 0.060, 0.060, 0.065, 0.070, 0.070, 0.065, 0.070, 0.065,
  0.070, 0.070, 0.085, 0.090, 0.085, 0.090, 0.085, 0.090, 0.080, 0.080,
  0.078, 0.085, 0.090, 0.085, 0.090, 0.088, 0.085, 0.090, 0.095, 0.090,
  0.095, 0.095, 0.095, 0.100, 0.090, 0.085, 0.092];
const mepsDpDecXSSd = [0.022, 0.022, 0.022, 0.022, 0.022, 0.020, 0.020, 0.020, 0.020,
  0.020, 0.020, 0.020, 0.020, 0.020, 0.020, 0.020, 0.020, 0.020, 0.020,
  0.020, 0.020, 0.020, 0.020, 0.020, 0.020, 0.020, 0.020, 0.020, 0.020,
  0.020, 0.020, 0.020, 0.020, 0.020, 0.020, 0.020, 0.020, 0.020, 0.020,
  0.020, 0.020, 0.020, 0.020, 0.020, 0.020, 0.020];
const mepsDpClfXS = [0.260, 0.270, 0.280, 0.290, 0.300, 0.310, 0.300, 0.295, 0.290,
  0.290, 0.285, 0.275, 0.275, 0.280, 0.275, 0.285, 0.295, 0.305, 0.295,
  0.300, 0.290, 0.270, 0.260, 0.260, 0.265, 0.250, 0.255, 0.250, 0.255,
  0.260, 0.235, 0.250, 0.245, 0.255, 0.240, 0.235, 0.225, 0.230, 0.225,
  0.230, 0.215, 0.220, 0.225, 0.230, 0.235, 0.230];
const mepsDpClfXSSd = [0.025, 0.030, 0.030, 0.030, 0.030, 0.030, 0.030, 0.030, 0.030,
  0.030, 0.030, 0.030, 0.030, 0.030, 0.030, 0.030, 0.030, 0.030, 0.030,
  0.030, 0.030, 0.030, 0.030, 0.030, 0.030, 0.030, 0.030, 0.030, 0.035,
  0.035, 0.040, 0.040, 0.045, 0.050, 0.050, 0.050, 0.050, 0.050, 0.050,
  0.045, 0.045, 0.040, 0.040, 0.035, 0.035, 0.035];

/*################
Panel table (built from the arrays above)
################*/
const panels = [
  { tag: '(a) Synthetic', metric: 'ut', row: 0, col: 0, yDomain: [-0.0084, 0.2547], yTicks: synUtTicks,
    mean: [synUtDecZ, synUtClfZ, synUtLabelZ, synUtDecXS, synUtClfXS],
    sd: [synUtDecZSd, synUtClfZSd, synUtLabelZSd, synUtDecXSSd, synUtClfXSSd],
    fair: optFair[0], unfair: optUnfair[0] },
  { tag: '(b) COMPAS', metric: 'ut', row: 0, col: 1, yDomain: [0.0083, 0.0979], yTicks: compUtTicks,
    mean: [compUtDecZ, compUtClfZ, compUtLabelZ, compUtDecXS, compUtClfXS],
    sd: [compUtDecZSd, compUtClfZSd, compUtLabelZSd, compUtDecXSSd, compUtClfXSSd] },
  { tag: '(c) CREDIT', metric: 'ut', row: 0, col: 2, yDomain: [0.0134, 0.2122], yTicks: credUtTicks,
    mean: [credUtDecZ, credUtClfZ, credUtLabelZ, credUtDecXS, credUtClfXS],
    sd: [credUtDecZSd, credUtClfZSd, credUtLabelZSd, credUtDecXSSd, credUtClfXSSd] },
  { tag: '(d) MEPS', metric: 'ut', row: 0, col: 3, yDomain: [0.018, 0.0868], yTicks: mepsUtTicks,
    mean: [mepsUtDecZ, mepsUtClfZ, mepsUtLabelZ, mepsUtDecXS, mepsUtClfXS],
    sd: [mepsUtDecZSd, mepsUtClfZSd, mepsUtLabelZSd, mepsUtDecXSSd, mepsUtClfXSSd] },
  { tag: '(e) Synthetic', metric: 'dp', row: 1, col: 0, yDomain: [-0.0196, 0.505], yTicks: synDpTicks,
    mean: [synDpDecZ, synDpClfZ, synDpLabelZ, synDpDecXS, synDpClfXS],
    sd: [synDpDecZSd, synDpClfZSd, synDpLabelZSd, synDpDecXSSd, synDpClfXSSd],
    fair: optFair[1], unfair: optUnfair[1] },
  { tag: '(f) COMPAS', metric: 'dp', row: 1, col: 1, yDomain: [-0.009, 0.332], yTicks: compDpTicks,
    mean: [compDpDecZ, compDpClfZ, compDpLabelZ, compDpDecXS, compDpClfXS],
    sd: [compDpDecZSd, compDpClfZSd, compDpLabelZSd, compDpDecXSSd, compDpClfXSSd] },
  { tag: '(g) CREDIT', metric: 'dp', row: 1, col: 2, yDomain: [-0.0076, 0.252], yTicks: credDpTicks,
    mean: [credDpDecZ, credDpClfZ, credDpLabelZ, credDpDecXS, credDpClfXS],
    sd: [credDpDecZSd, credDpClfZSd, credDpLabelZSd, credDpDecXSSd, credDpClfXSSd] },
  { tag: '(h) MEPS', metric: 'dp', row: 1, col: 3, yDomain: [-0.0139, 0.357], yTicks: mepsDpTicks,
    mean: [mepsDpDecZ, mepsDpClfZ, mepsDpLabelZ, mepsDpDecXS, mepsDpClfXS],
    sd: [mepsDpDecZSd, mepsDpClfZSd, mepsDpLabelZSd, mepsDpDecXSSd, mepsDpClfXSSd] }
];

/*################
Layout & style
################*/
const colors = ['#1f77b4', '#ff7f0e', '#2ca02c', '#d62728', '#9467bd'];
const colLeft = [60, 362, 665, 967], boxW = 226;
const rowTop = [107, 407], boxH = 125;
const dashDot = '12,3.5,2,3.5';

const svg = d3.select('#chart');

/*################
Legend
################*/
function piLabel(g, x, base, sup, sub, tail) {
  const pi = g.append('text').attr('x', x).attr('y', base).attr('font-size', 21)
    .attr('font-style', 'italic').text('π');
  const sx = x + pi.node().getComputedTextLength() + 0.5;
  const supT = g.append('text').attr('x', sx + 1).attr('y', base - 11).attr('font-size', 14);
  if (sup === 'XS') {
    supT.append('tspan').text('(');
    supT.append('tspan').attr('font-style', 'italic').text('X');
    supT.append('tspan').text(',');
    supT.append('tspan').attr('font-style', 'italic').text('S');
    supT.append('tspan').text(')');
  } else {
    supT.attr('font-style', 'italic').text(sup);
  }
  const subT = g.append('text').attr('x', sx).attr('y', base + 5).attr('font-size', 14).text(sub);
  let end = Math.max(sx + 1 + supT.node().getComputedTextLength(), sx + subT.node().getComputedTextLength());
  if (tail) {
    const t = g.append('text').attr('x', end + 4).attr('y', base).attr('font-size', 19).text(tail);
    end += 4 + t.node().getComputedTextLength();
  }
  return end;
}

const legendItems = [
  { color: colors[0], sup: 'Z', sub: 'dec', tail: '(ours)' },
  { color: colors[1], sup: 'Z', sub: 'clf' },
  { color: colors[2], sup: 'Z', sub: 'label' },
  { color: colors[3], sup: 'XS', sub: 'dec' },
  { color: colors[4], sup: 'XS', sub: 'clf' },
  { color: '#000', dash: true, text: 'OPT-FAIR' },
  { color: 'red', dash: true, text: 'OPT-UNFAIR' }
];

const legend = svg.append('g');
let cx = 0;
legendItems.forEach(it => {
  legend.append('line')
    .attr('x1', cx).attr('x2', cx + 45).attr('y1', 23).attr('y2', 23)
    .attr('stroke', it.color).attr('stroke-width', 1.7)
    .attr('stroke-dasharray', it.dash ? '2,3.5,6,3.5' : null);
  cx += 53;
  if (it.text) {
    const t = legend.append('text').attr('x', cx).attr('y', 29).attr('font-size', 19).text(it.text);
    cx += t.node().getComputedTextLength();
  } else {
    cx = piLabel(legend, cx, 29, it.sup, it.sub, it.tail);
  }
  cx += 8;
});
const legendW = cx - 8;
legend.attr('transform', `translate(${614 - legendW / 2},0)`);
legend.insert('rect', ':first-child')
  .attr('x', -8).attr('y', 3).attr('width', legendW + 16).attr('height', 42)
  .attr('fill', '#fff').attr('stroke', '#cfcfcf').attr('rx', 2);

/*################
Panels
################*/
panels.forEach((p, pi) => {
  const x0 = colLeft[p.col], y0 = rowTop[p.row];
  const x = d3.scaleLinear().domain([-2.4, 201.3]).range([x0, x0 + boxW]);
  const y = d3.scaleLinear().domain(p.yDomain).range([y0 + boxH, y0]);
  const g = svg.append('g');

  const clipId = 'clip' + pi;
  svg.append('clipPath').attr('id', clipId)
    .append('rect').attr('x', x0).attr('y', y0).attr('width', boxW).attr('height', boxH);

  // axes
  const styleAxis = ax => {
    ax.select('.domain').remove();
    ax.attr('font-family', '"Liberation Serif", "DejaVu Serif", serif').attr('font-size', 18.5);
    ax.selectAll('line').attr('stroke', '#b3b3b3').attr('stroke-width', 1.3);
    ax.selectAll('text').attr('fill', '#111');
  };
  g.append('g').attr('transform', `translate(${x0},0)`)
    .call(d3.axisLeft(y).tickValues(p.yTicks).tickFormat(d3.format('.2f')).tickSize(11).tickPadding(6))
    .call(styleAxis);
  g.append('g').attr('transform', `translate(0,${y0 + boxH})`)
    .call(d3.axisBottom(x).tickValues(xTicks).tickSize(10).tickPadding(9))
    .call(styleAxis);

  // bands then lines
  const plot = g.append('g').attr('clip-path', `url(#${clipId})`);
  p.mean.forEach((m, k) => {
    const s = p.sd[k];
    const area = d3.area()
      .x((d, i) => x(steps[i]))
      .y0((d, i) => y(d - s[i]))
      .y1((d, i) => y(d + s[i]));
    plot.append('path').datum(m).attr('d', area)
      .attr('fill', colors[k]).attr('fill-opacity', 0.2).attr('stroke', 'none');
  });
  p.mean.forEach((m, k) => {
    const line = d3.line().x((d, i) => x(steps[i])).y(d => y(d));
    plot.append('path').datum(m).attr('d', line)
      .attr('fill', 'none').attr('stroke', colors[k]).attr('stroke-width', 1.3)
      .attr('stroke-linejoin', 'round');
  });
  if (p.fair !== undefined) {
    plot.append('line').attr('x1', x(0)).attr('x2', x(200)).attr('y1', y(p.fair)).attr('y2', y(p.fair))
      .attr('stroke', '#000').attr('stroke-opacity', 0.75).attr('stroke-width', 1.5).attr('stroke-dasharray', dashDot);
    plot.append('line').attr('x1', x(0)).attr('x2', x(200)).attr('y1', y(p.unfair)).attr('y2', y(p.unfair))
      .attr('stroke', 'red').attr('stroke-opacity', 0.7).attr('stroke-width', 1.5).attr('stroke-dasharray', dashDot);
  }

  // frame
  g.append('rect').attr('x', x0).attr('y', y0).attr('width', boxW).attr('height', boxH)
    .attr('fill', 'none').attr('stroke', '#222').attr('stroke-width', 1);

  // title
  const midX = x0 + boxW / 2;
  if (p.metric === 'ut') {
    const t = g.append('text').attr('x', midX).attr('y', y0 - 29).attr('text-anchor', 'middle')
      .attr('font-size', 20.5).text('Utility (UT)');
    const n = t.node();
    const a = n.getStartPositionOfChar(9).x + 0.5, b = n.getEndPositionOfChar(10).x - 0.5;
    const ty = y0 - 29 - 18, w = b - a;
    g.append('path')
      .attr('d', `M${a},${ty + 1.5} C${a + w * 0.2},${ty - 2.5} ${a + w * 0.35},${ty - 2} ${a + w * 0.5},${ty}` +
        ` S${a + w * 0.8},${ty + 2.5} ${b},${ty - 1.5}`)
      .attr('fill', 'none').attr('stroke', '#111').attr('stroke-width', 1.1);
  } else {
    g.append('text').attr('x', midX).attr('y', y0 - 29).attr('text-anchor', 'middle')
      .attr('font-size', 21).text('DP Unfairness (DPU)');
  }

  // x label
  const xl = g.append('text').attr('x', midX).attr('y', y0 + boxH + 65).attr('text-anchor', 'middle')
    .attr('font-size', 23);
  xl.append('tspan').text('time steps ');
  xl.append('tspan').attr('font-style', 'italic').text('t');

  // caption
  g.append('text').attr('x', midX - 26).attr('y', y0 + boxH + 112).attr('text-anchor', 'middle')
    .attr('font-size', 21.5).attr('font-weight', 'bold').text(p.tag);
});
</script>
</body>
</html>
